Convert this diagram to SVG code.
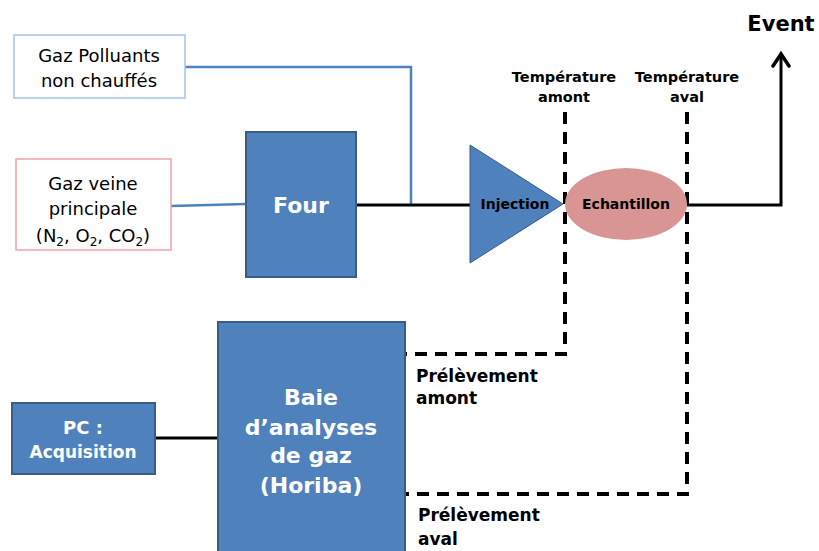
<svg xmlns="http://www.w3.org/2000/svg" width="819" height="551" viewBox="0 0 819 551">
<style>
.t{font-family:"DejaVu Sans",Verdana,sans-serif;fill:#000}
.b{font-weight:bold}
.w{fill:#fff;font-weight:bold}
.blk{fill:#4f81bd;stroke:#385d8a;stroke-width:2}
.blue{fill:none;stroke:#4f81bd;stroke-width:2.5}
.solid{fill:none;stroke:#000;stroke-width:3}
.dash{fill:none;stroke:#000;stroke-width:4;stroke-dasharray:12,8}
</style>
<defs>
<marker id="arr" viewBox="0 0 20 20" refX="16" refY="10" markerWidth="20" markerHeight="20" markerUnits="userSpaceOnUse" orient="auto">
<path d="M4,2 L16,10 L4,18" fill="none" stroke="#000" stroke-width="3.5" stroke-linecap="round" stroke-linejoin="miter"/>
</marker>
</defs>
<g id="connectors">
<path class="blue" d="M185,67 H411 V205"/>
<path class="blue" d="M171,206 L246,204"/>
<path class="solid" d="M356,205 H470"/>
<path class="solid" d="M687,205 H781 V54" marker-end="url(#arr)"/>
<path class="solid" stroke-width="2.5" d="M155,438 H218"/>
<path class="dash" d="M565,112 V354 H405"/>
<path class="dash" d="M687,112 V494 H405"/>
</g>
<g id="gaz-polluants">
<rect x="14" y="35" width="171" height="63" fill="#fff" stroke="#a7c3e6" stroke-width="1.5"/>
<text class="t" font-size="18" text-anchor="middle" x="99" y="62">Gaz Polluants</text>
<text class="t" font-size="18" text-anchor="middle" x="99" y="87">non chauffés</text>
</g>
<g id="gaz-veine">
<rect x="16" y="159" width="155" height="91" fill="#fff" stroke="#f4a3a3" stroke-width="1.5"/>
<text class="t" font-size="18" text-anchor="middle" x="93" y="190">Gaz veine</text>
<text class="t" font-size="18" text-anchor="middle" x="93" y="215">principale</text>
<text class="t" font-size="18" text-anchor="middle" x="93" y="242">(N<tspan font-size="12" dy="4">2</tspan><tspan dy="-4">, O</tspan><tspan font-size="12" dy="4">2</tspan><tspan dy="-4">, CO</tspan><tspan font-size="12" dy="4">2</tspan><tspan dy="-4">)</tspan></text>
</g>
<g id="four">
<rect class="blk" x="246" y="132" width="110" height="145"/>
<text class="t w" font-size="22" text-anchor="middle" x="301" y="213">Four</text>
</g>
<g id="injection">
<path d="M470,145 L563,204 L470,263 Z" fill="#4f81bd" stroke="#385d8a" stroke-width="1"/>
<text class="t b" font-size="14" text-anchor="middle" x="515" y="209">Injection</text>
</g>
<g id="echantillon">
<ellipse cx="626" cy="204" rx="61" ry="36" fill="#d99594"/>
<text class="t b" font-size="14" text-anchor="middle" x="626" y="209">Echantillon</text>
</g>
<g id="temp-amont">
<text class="t b" font-size="14.5" text-anchor="middle" x="564" y="82">Température</text>
<text class="t b" font-size="14.5" text-anchor="middle" x="564" y="102">amont</text>
</g>
<g id="temp-aval">
<text class="t b" font-size="14.5" text-anchor="middle" x="687" y="82">Température</text>
<text class="t b" font-size="14.5" text-anchor="middle" x="687" y="102">aval</text>
</g>
<g id="event">
<text class="t b" font-size="21" text-anchor="middle" x="781" y="31">Event</text>
</g>
<g id="pc">
<rect class="blk" x="12" y="403" width="143" height="71"/>
<text class="t w" font-size="18" text-anchor="middle" x="83" y="434">PC :</text>
<text class="t w" font-size="17" text-anchor="middle" x="83" y="458">Acquisition</text>
</g>
<g id="baie">
<rect class="blk" x="218" y="322" width="187" height="240"/>
<text class="t w" font-size="22" text-anchor="middle" x="311" y="405">Baie</text>
<text class="t w" font-size="22" text-anchor="middle" x="311" y="435">d’analyses</text>
<text class="t w" font-size="22" text-anchor="middle" x="311" y="463">de gaz</text>
<text class="t w" font-size="22" text-anchor="middle" x="311" y="493">(Horiba)</text>
</g>
<g id="prel-amont">
<text class="t b" font-size="17" x="416" y="382">Prélèvement</text>
<text class="t b" font-size="17" x="416" y="404">amont</text>
</g>
<g id="prel-aval">
<text class="t b" font-size="17" x="418" y="521">Prélèvement</text>
<text class="t b" font-size="17" x="418" y="545">aval</text>
</g>
</svg>
